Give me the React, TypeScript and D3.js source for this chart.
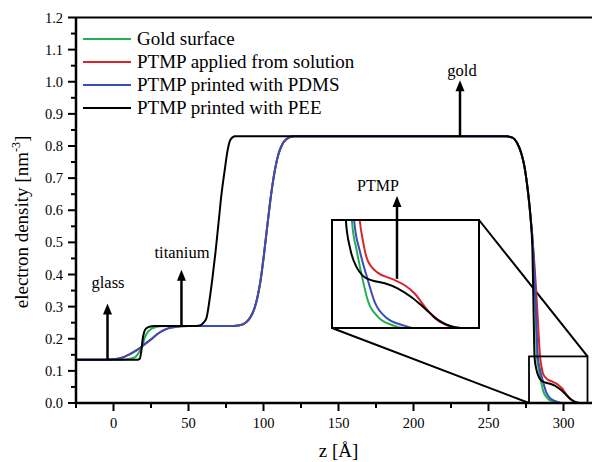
import React from "react";
import * as d3 from "d3";

type Pt = [number, number];

const seriesNames = [
  "Gold surface",
  "PTMP applied from solution",
  "PTMP printed with PDMS",
  "PTMP printed with PEE",
];
const seriesColors = ["#22b050", "#d8262a", "#3a4db8", "#000000"];

const goldSurface: Pt[] = [
  [-25, 0.135], [5, 0.135], [10, 0.137], [13, 0.14], [15, 0.145], [17, 0.158], [19, 0.175],
  [21, 0.205], [23, 0.222], [25.5, 0.232], [28, 0.236], [31, 0.239], [40, 0.24], [80, 0.24],
  [84, 0.242], [88, 0.25], [91, 0.265], [94, 0.295], [96, 0.33], [98, 0.38], [100, 0.45],
  [102, 0.53], [104, 0.61], [106, 0.68], [108, 0.735], [110, 0.775], [112, 0.8], [115, 0.82],
  [120, 0.83], [250, 0.83], [262, 0.83], [266, 0.826], [269, 0.81], [272, 0.775], [274, 0.735],
  [276, 0.67], [278, 0.58], [279.5, 0.5], [280.5, 0.4], [281.5, 0.27], [282.3, 0.143],
  [283.6, 0.103], [285, 0.068], [286.5, 0.037], [289.2, 0.015], [292.9, 0.004], [296, 0], [320, 0],
];

const ptmpSolution: Pt[] = [
  [-25, 0.135], [-5, 0.135], [0, 0.136], [5, 0.14], [10, 0.15], [15, 0.163], [20, 0.18],
  [25, 0.198], [30, 0.217], [35, 0.23], [40, 0.236], [45, 0.239], [50, 0.24], [80, 0.24],
  [84, 0.242], [88, 0.25], [91, 0.265], [94, 0.295], [96, 0.33], [98, 0.38], [100, 0.45],
  [102, 0.53], [104, 0.61], [106, 0.68], [108, 0.735], [110, 0.775], [112, 0.8], [115, 0.82],
  [120, 0.83], [250, 0.83], [262, 0.83], [266, 0.826], [269, 0.81], [272, 0.775], [274, 0.735],
  [276, 0.67], [278, 0.58], [279.5, 0.5], [280.5, 0.44], [281.5, 0.37], [283, 0.25],
  [284.4, 0.143], [285.2, 0.117], [286.5, 0.09], [289.2, 0.074], [292.9, 0.066], [296.4, 0.057],
  [299, 0.046], [301.7, 0.028], [304.3, 0.013], [307.8, 0.003], [311.5, 0], [320, 0],
];

const ptmpPdms: Pt[] = [
  [-25, 0.135], [-5, 0.135], [0, 0.136], [5, 0.14], [10, 0.15], [15, 0.163], [20, 0.18],
  [25, 0.198], [30, 0.217], [35, 0.23], [40, 0.236], [45, 0.239], [50, 0.24], [80, 0.24],
  [84, 0.242], [88, 0.25], [91, 0.265], [94, 0.295], [96, 0.33], [98, 0.38], [100, 0.45],
  [102, 0.53], [104, 0.61], [106, 0.68], [108, 0.735], [110, 0.775], [112, 0.8], [115, 0.82],
  [120, 0.83], [250, 0.83], [262, 0.83], [266, 0.826], [269, 0.81], [272, 0.775], [274, 0.735],
  [276, 0.67], [278, 0.58], [279.5, 0.5], [280.7, 0.4], [281.8, 0.27], [282.9, 0.143],
  [284.4, 0.103], [286.3, 0.068], [288.4, 0.034], [291.6, 0.013], [295.6, 0.004], [299, 0], [320, 0],
];

const ptmpPee: Pt[] = [
  [-25, 0.135], [16, 0.135], [17.5, 0.138], [18.5, 0.16], [19.5, 0.2], [20.5, 0.222], [22, 0.233],
  [24.5, 0.238], [27, 0.24], [55, 0.24], [58, 0.242], [60, 0.25], [62, 0.265], [64, 0.32],
  [66, 0.39], [68, 0.47], [70, 0.56], [72, 0.65], [74, 0.72], [76, 0.785], [78, 0.82], [81, 0.83],
  [85, 0.83], [250, 0.83], [262, 0.83], [266, 0.826], [269, 0.81], [272, 0.775], [274, 0.735],
  [276, 0.67], [278, 0.58], [279.3, 0.47], [280, 0.3], [280.7, 0.143], [281.8, 0.107],
  [283.6, 0.081], [285.2, 0.07], [287.6, 0.064], [291, 0.06], [294.5, 0.053], [298.2, 0.041],
  [301.7, 0.026], [305.1, 0.011], [308.8, 0.002], [311, 0], [320, 0],
];

const allSeries = [goldSurface, ptmpSolution, ptmpPdms, ptmpPee];

const xTicks = [0, 50, 100, 150, 200, 250, 300];
const xMinorTicks = [-25, 25, 75, 125, 175, 225, 275];
const yTicks = [0, 0.1, 0.2, 0.3, 0.4, 0.5, 0.6, 0.7, 0.8, 0.9, 1.0, 1.1, 1.2];
const yMinorTicks = [0.05, 0.15, 0.25, 0.35, 0.45, 0.55, 0.65, 0.75, 0.85, 0.95, 1.05, 1.15];

const zoomZ: [number, number] = [277, 316];
const zoomRho: [number, number] = [0, 0.145];

const annotations = [
  { label: "glass", z: -4, from: 0.135, to: 0.31, tx: 108, ty: 288 },
  { label: "titanium", z: 45.3, from: 0.24, to: 0.415, tx: 182, ty: 258 },
  { label: "gold", z: 231, from: 0.83, to: 1.005, tx: 462, ty: 76 },
];

const FONT = "Liberation Serif, DejaVu Serif, Times New Roman, serif";
const tf: React.CSSProperties = { fontFamily: FONT };

export default function App() {
  const W = 592, H = 462;
  const x0 = 76, x1 = 593.5, yTop = 17.5, yBot = 403;
  const x = d3.scaleLinear().domain([-25, 320]).range([x0, x1]);
  const y = d3.scaleLinear().domain([0, 1.2]).range([yBot, yTop]);

  const line = d3.line<Pt>().x((d) => x(d[0])).y((d) => y(d[1])).curve(d3.curveMonotoneX);

  const ix = d3.scaleLinear().domain(zoomZ).range([332, 479]);
  const iy = d3.scaleLinear().domain(zoomRho).range([328, 220]);
  const iline = d3.line<Pt>().x((d) => ix(d[0])).y((d) => iy(d[1])).curve(d3.curveMonotoneX);

  const rx0 = x(zoomZ[0]), rx1 = x(zoomZ[1]), ry0 = y(zoomRho[1]), ry1 = y(zoomRho[0]);

  const arrowHead = (cx: number, tipY: number, key: string) => (
    <path key={key} d={`M${cx},${tipY} L${cx - 4.5},${tipY + 11} L${cx + 4.5},${tipY + 11} Z`} fill="#000" />
  );

  return (
    <svg width={W} height={H} style={{ position: "absolute", left: 0, top: 0, fontFamily: FONT }}>
      <rect x={0} y={0} width={W} height={H} fill="#fff" />
      <defs>
        <clipPath id="plotClip">
          <rect x={x0} y={yTop} width={x1 - x0} height={yBot - yTop} />
        </clipPath>
        <clipPath id="insetClip">
          <rect x={332} y={220} width={147} height={108} />
        </clipPath>
      </defs>

      <line x1={479} y1={220} x2={rx1} y2={ry0} stroke="#000" strokeWidth={2} />
      <line x1={332} y1={328} x2={rx0} y2={ry1} stroke="#000" strokeWidth={2} />

      <g clipPath="url(#plotClip)">
        {allSeries.map((s, i) => (
          <path key={i} d={line(s) || ""} fill="none" stroke={seriesColors[i]} strokeWidth={2} />
        ))}
      </g>

      <rect x={rx0} y={ry0} width={rx1 - rx0} height={ry1 - ry0} fill="none" stroke="#000" strokeWidth={1.8} />

      <rect x={332} y={220} width={147} height={108} fill="#fff" />
      <g clipPath="url(#insetClip)">
        {allSeries.map((s, i) => (
          <path key={i} d={iline(s) || ""} fill="none" stroke={seriesColors[i]} strokeWidth={2} />
        ))}
      </g>
      <rect x={332} y={220} width={147} height={108} fill="none" stroke="#000" strokeWidth={2} />

      <line x1={397} y1={iy(0.066)} x2={397} y2={205} stroke="#000" strokeWidth={2.5} />
      {arrowHead(397, 196, "ptmp")}
      <text x={378} y={191} fontSize={16} textAnchor="middle" style={tf}>PTMP</text>

      {annotations.map((a, i) => (
        <g key={i}>
          <line x1={x(a.z)} y1={y(a.from)} x2={x(a.z)} y2={y(a.to) + 9} stroke="#000" strokeWidth={2.5} />
          {arrowHead(x(a.z), y(a.to), "a" + i)}
          <text x={a.tx} y={a.ty} fontSize={16.5} textAnchor="middle" style={tf}>{a.label}</text>
        </g>
      ))}

      <line x1={x0} y1={yBot} x2={W} y2={yBot} stroke="#000" strokeWidth={2.5} />
      <line x1={x0} y1={yTop} x2={x0} y2={yBot} stroke="#000" strokeWidth={2.5} />
      <line x1={x0} y1={yTop} x2={W} y2={yTop} stroke="#000" strokeWidth={2} />

      {xTicks.map((t) => (
        <g key={"xt" + t}>
          <line x1={x(t)} y1={yBot} x2={x(t)} y2={yBot + 8} stroke="#000" strokeWidth={2} />
          <text x={x(t)} y={428} fontSize={14.5} textAnchor="middle" style={tf}>{t}</text>
        </g>
      ))}
      {xMinorTicks.map((t) => (
        <line key={"xm" + t} x1={x(t)} y1={yBot} x2={x(t)} y2={yBot + 5} stroke="#000" strokeWidth={2} />
      ))}
      {yTicks.map((t) => (
        <g key={"yt" + t}>
          <line x1={x0 - 8} y1={y(t)} x2={x0} y2={y(t)} stroke="#000" strokeWidth={2} />
          <text x={63} y={y(t) + 5} fontSize={14.5} textAnchor="end" style={tf}>{t.toFixed(1)}</text>
        </g>
      ))}
      {yMinorTicks.map((t) => (
        <line key={"ym" + t} x1={x0 - 5} y1={y(t)} x2={x0} y2={y(t)} stroke="#000" strokeWidth={2} />
      ))}

      <text x={x(150)} y={457} fontSize={19} textAnchor="middle" style={tf}>z [Å]</text>
      <text transform="translate(28,222) rotate(-90)" fontSize={19} textAnchor="middle" style={tf}>
        electron density [nm<tspan dy={-8} fontSize={12}>-3</tspan><tspan dy={8}>]</tspan>
      </text>

      {seriesNames.map((n, i) => {
        const ly = 39 + i * 23;
        return (
          <g key={n}>
            <line x1={83} y1={ly} x2={131} y2={ly} stroke={seriesColors[i]} strokeWidth={2} />
            <text x={137} y={ly + 6} fontSize={19} style={tf}>{n}</text>
          </g>
        );
      })}
    </svg>
  );
}
